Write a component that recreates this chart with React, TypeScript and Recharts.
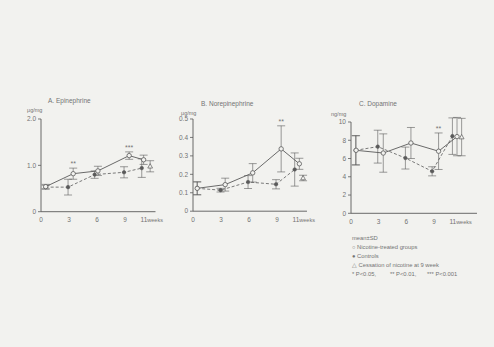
import { ComposedChart, Line, Scatter, XAxis, YAxis, ErrorBar } from "recharts";

const weekTicks = [0, 3, 6, 9, 11];

// A. Epinephrine
const epiNicWeeks = [0.5, 3.45, 6.1, 9.45, 11.0];
const epiNicValues = [0.54, 0.82, 0.88, 1.21, 1.12];
const epiNicSd = [0.05, 0.12, 0.1, 0.08, 0.1];
const epiNicSig = ["", "**", "", "***", ""];
const epiConWeeks = [0.5, 2.9, 5.75, 8.9, 10.8];
const epiConValues = [0.53, 0.53, 0.8, 0.85, 0.94];
const epiConSd = [0.04, 0.17, 0.08, 0.12, 0.2];
const epiCesWeeks = [11.7];
const epiCesValues = [0.98];
const epiCesSd = [0.12];
const epiTicks = [0, 1, 2];

// B. Norepinephrine
const norNicWeeks = [0.45, 3.45, 6.4, 9.45, 11.4];
const norNicValues = [0.124, 0.144, 0.208, 0.338, 0.257];
const norNicSd = [0.035, 0.035, 0.05, 0.125, 0.03];
const norNicSig = ["", "", "", "**", ""];
const norConWeeks = [0.45, 2.95, 5.9, 8.9, 10.9];
const norConValues = [0.124, 0.114, 0.158, 0.146, 0.226];
const norConSd = [0.035, 0.01, 0.035, 0.025, 0.09];
const norCesWeeks = [11.8];
const norCesValues = [0.18];
const norCesSd = [0.015];
const norTicks = [0, 0.1, 0.2, 0.3, 0.4, 0.5];

// C. Dopamine
const dopNicWeeks = [0.55, 3.5, 6.5, 9.5, 11.5];
const dopNicValues = [6.9, 6.6, 7.7, 6.8, 8.4];
const dopNicSd = [1.6, 2.1, 1.7, 2.0, 2.1];
const dopNicSig = ["", "", "", "**", ""];
const dopConWeeks = [0.5, 2.9, 5.9, 8.8, 11.0];
const dopConValues = [6.9, 7.3, 6.05, 4.6, 8.45];
const dopConSd = [1.6, 1.8, 1.2, 0.5, 2.0];
const dopCesWeeks = [12.0];
const dopCesValues = [8.35];
const dopCesSd = [2.05];
const dopTicks = [0, 2, 4, 6, 8, 10];

const legendLines = [
  "mean\u00b1SD",
  "\u25cb  Nicotine-treated groups",
  "\u25cf  Controls",
  "\u25b3  Cessation of nicotine at 9 week",
];
const pLabels = ["* P<0.05,", "** P<0.01,", "*** P<0.001"];
const pOffsets = [0, 38, 75];

const bg = "#f2f2ef";
const ink = "#5a5a5a";
const textInk = "#737373";
const font = "'Liberation Sans', Arial, sans-serif";

type Pt = { x: number; y: number; sd: number; sig: string };

const toPoints = (w: number[], v: number[], s: number[], sig?: string[]): Pt[] =>
  w.map((x, i) => ({ x, y: v[i], sd: s[i], sig: sig ? sig[i] : "" }));

const YW = 30;
const MT = 10;
const MR = 26;
const XH = 18;

type PanelProps = {
  axisX: number;
  topY: number;
  baseY: number;
  rightX: number;
  pxPerWeek: number;
  yMax: number;
  yTicks: number[];
  fmt: (v: number) => string;
  nic: Pt[];
  con: Pt[];
  ces: Pt[];
};

const openDot = (p: any) => (
  <circle key={`o${p.index}`} cx={p.cx} cy={p.cy} r={2.2} fill={bg} stroke={ink} strokeWidth={0.8} />
);
const filledDot = (p: any) => (
  <circle key={`f${p.index}`} cx={p.cx} cy={p.cy} r={1.8} fill={ink} stroke={ink} strokeWidth={0.5} />
);
const triangle = (p: any) => (
  <polygon
    points={`${p.cx},${p.cy - 2.6} ${p.cx - 2.4},${p.cy + 1.8} ${p.cx + 2.4},${p.cy + 1.8}`}
    fill={bg}
    stroke={ink}
    strokeWidth={0.7}
  />
);
const stars = (p: any) => (
  <text x={p.cx} y={p.cy - 2} textAnchor="middle" fontSize={7} fill={textInk} fontFamily={font}>
    {p.payload.sig}
  </text>
);

const WeekTick = (p: any) => {
  const v = p.payload.value;
  if (v === 11) {
    return (
      <text x={p.x - 3} y={p.y + 2.5} fontSize={6.5} fill={textInk} fontFamily={font}>
        11<tspan fontSize={5.5}>weeks</tspan>
      </text>
    );
  }
  return (
    <text x={p.x} y={p.y + 2.5} textAnchor="middle" fontSize={6.5} fill={textInk} fontFamily={font}>
      {v}
    </text>
  );
};

const Panel = (props: PanelProps) => {
  const plotW = props.rightX - props.axisX;
  const plotH = props.baseY - props.topY;
  const xMax = plotW / props.pxPerWeek;
  const starPts = props.nic.filter((d) => d.sig).map((d) => ({ ...d, y: d.y + d.sd }));
  return (
    <div
      style={{
        position: "absolute",
        left: props.axisX - YW,
        top: props.topY - MT,
        fontFamily: font,
      }}
    >
      <ComposedChart
        width={YW + plotW + MR}
        height={MT + plotH + XH}
        margin={{ top: MT, right: MR, left: 0, bottom: 0 }}
      >
        <XAxis
          type="number"
          dataKey="x"
          domain={[0, xMax]}
          ticks={weekTicks}
          interval={0}
          allowDataOverflow
          height={XH}
          axisLine={{ stroke: ink, strokeWidth: 0.9 }}
          tickLine={false}
          tick={<WeekTick />}
        />
        <YAxis
          type="number"
          domain={[0, props.yMax]}
          ticks={props.yTicks}
          interval={0}
          allowDataOverflow
          width={YW}
          tickSize={3}
          tickFormatter={props.fmt}
          axisLine={{ stroke: ink, strokeWidth: 0.9 }}
          tickLine={{ stroke: ink, strokeWidth: 0.8 }}
          tick={{ fontSize: 6.5, fill: textInk, fontFamily: font }}
        />
        <Line
          data={props.con}
          dataKey="y"
          type="linear"
          stroke={ink}
          strokeWidth={0.8}
          strokeDasharray="3 2"
          dot={filledDot}
          isAnimationActive={false}
        >
          <ErrorBar dataKey="sd" direction="y" width={4} stroke={ink} strokeWidth={0.6} />
        </Line>
        <Line
          data={props.nic}
          dataKey="y"
          type="linear"
          stroke={ink}
          strokeWidth={0.9}
          dot={openDot}
          isAnimationActive={false}
        >
          <ErrorBar dataKey="sd" direction="y" width={4} stroke={ink} strokeWidth={0.6} />
        </Line>
        <Scatter data={props.ces} dataKey="y" shape={triangle} isAnimationActive={false}>
          <ErrorBar dataKey="sd" direction="y" width={4} stroke={ink} strokeWidth={0.6} />
        </Scatter>
        <Scatter data={starPts} dataKey="y" shape={stars} isAnimationActive={false} />
      </ComposedChart>
    </div>
  );
};

const App = () => {
  return (
    <div
      style={{
        position: "absolute",
        left: 0,
        top: 0,
        width: 494,
        height: 347,
        background: bg,
        overflow: "hidden",
        fontFamily: font,
      }}
    >
      <Panel
        axisX={40.5}
        topY={119}
        baseY={211.7}
        rightX={155}
        pxPerWeek={9.33}
        yMax={2}
        yTicks={epiTicks}
        fmt={(v) => (v === 0 ? "0" : v.toFixed(1))}
        nic={toPoints(epiNicWeeks, epiNicValues, epiNicSd, epiNicSig)}
        con={toPoints(epiConWeeks, epiConValues, epiConSd)}
        ces={toPoints(epiCesWeeks, epiCesValues, epiCesSd)}
      />
      <Panel
        axisX={193}
        topY={119.3}
        baseY={211.5}
        rightX={307}
        pxPerWeek={9.33}
        yMax={0.5}
        yTicks={norTicks}
        fmt={(v) => (v === 0 ? "0" : v.toFixed(1))}
        nic={toPoints(norNicWeeks, norNicValues, norNicSd, norNicSig)}
        con={toPoints(norConWeeks, norConValues, norConSd)}
        ces={toPoints(norCesWeeks, norCesValues, norCesSd)}
      />
      <Panel
        axisX={351}
        topY={122}
        baseY={213.3}
        rightX={477}
        pxPerWeek={9.22}
        yMax={10}
        yTicks={dopTicks}
        fmt={(v) => String(v)}
        nic={toPoints(dopNicWeeks, dopNicValues, dopNicSd, dopNicSig)}
        con={toPoints(dopConWeeks, dopConValues, dopConSd)}
        ces={toPoints(dopCesWeeks, dopCesValues, dopCesSd)}
      />
      <svg
        width={494}
        height={347}
        style={{ position: "absolute", left: 0, top: 0, pointerEvents: "none" }}
      >
        <g fill={textInk} fontFamily={font}>
          <text x={48} y={103} fontSize={6.5}>A.  Epinephrine</text>
          <text x={201} y={106} fontSize={6.5}>B.  Norepinephrine</text>
          <text x={359} y={106} fontSize={6.5}>C.  Dopamine</text>
          <text x={27} y={111.5} fontSize={5.5}>μg/mg</text>
          <text x={181} y={115} fontSize={5.5}>μg/mg</text>
          <text x={331} y={115.5} fontSize={5.5}>ng/mg</text>
          {legendLines.map((t, i) => (
            <text key={i} x={352} y={240 + i * 9.1} fontSize={5.8}>
              {t}
            </text>
          ))}
          {pLabels.map((t, i) => (
            <text key={`p${i}`} x={352 + pOffsets[i]} y={240 + 4 * 9.1} fontSize={5.8}>
              {t}
            </text>
          ))}
        </g>
      </svg>
    </div>
  );
};

export default App;
